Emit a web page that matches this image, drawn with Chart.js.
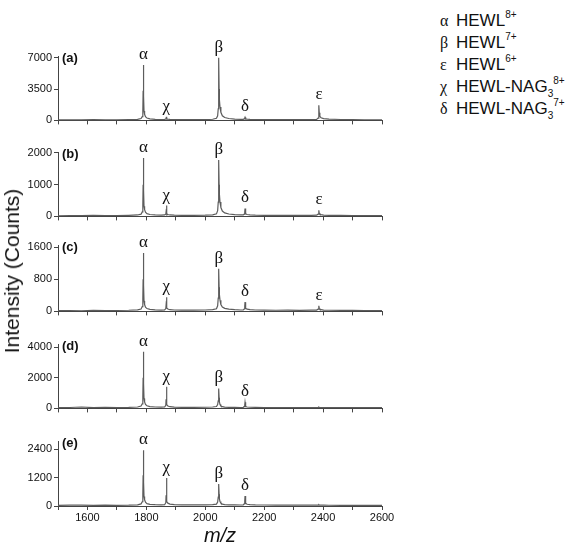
<!DOCTYPE html>
<html lang="en">
<head>
  <meta charset="UTF-8" />
  <title>HEWL spectra</title>
  <script src="https://cdn.jsdelivr.net/npm/chart.js"></script>
  <style>
    html, body { margin: 0; padding: 0; background: #fff; }
    body { width: 567px; height: 547px; overflow: hidden; position: relative; font-family: "Liberation Sans", Arial, sans-serif; }
    canvas.panel { position: absolute; left: 0; }
    #ytitle {
      position: absolute; left: 12px; top: 271px; font-size: 21px; color: #111;
      transform: translate(-50%, -50%) rotate(-90deg); white-space: nowrap;
    }
    .leg { position: absolute; left: 440px; font-size: 17px; color: #111; white-space: nowrap; line-height: 20px; }
    .leg .g { font-family: "Liberation Serif", "Times New Roman", serif; font-size: 16px; display: inline-block; width: 16px; }
    .leg sup { font-size: 10px; vertical-align: 8px; }
    .leg sub { font-size: 10px; vertical-align: -5px; }
  </style>
</head>
<body>
  <canvas class="panel" id="p0"></canvas>
  <canvas class="panel" id="p1"></canvas>
  <canvas class="panel" id="p2"></canvas>
  <canvas class="panel" id="p3"></canvas>
  <canvas class="panel" id="p4"></canvas>
  <div id="ytitle">Intensity (Counts)</div>

  <div class="leg" style="top:5px"><span class="g">α</span>HEWL<sup>8+</sup></div>
  <div class="leg" style="top:27px"><span class="g">β</span>HEWL<sup>7+</sup></div>
  <div class="leg" style="top:49px"><span class="g">ε</span>HEWL<sup>6+</sup></div>
  <div class="leg" style="top:71px"><span class="g">χ</span>HEWL-NAG<sub>3</sub><sup>8+</sup></div>
  <div class="leg" style="top:93px"><span class="g">δ</span>HEWL-NAG<sub>3</sub><sup>7+</sup></div>

  <script>
    // m/z sampling (shared by all five spectra)
    const mz = [
      1500, 1540, 1580, 1620, 1660, 1700, 1740, 1770, 1782, 1786, 1788, 1789, 1790, 1791, 1792, 1794, 1797, 1802, 1812, 1830, 1850,
      1862, 1866, 1867, 1868, 1869, 1870, 1873, 1880, 1895, 1920, 1960, 2000, 2025,
      2038, 2042, 2044, 2045, 2046, 2047, 2048, 2050, 2053, 2058, 2066, 2080, 2100, 2120,
      2129, 2132, 2134, 2135, 2136, 2138, 2142, 2152, 2170, 2200, 2240, 2280, 2320, 2360,
      2378, 2383, 2385, 2386, 2387, 2389, 2393, 2402, 2420, 2460, 2500, 2540, 2580, 2600
    ];

    const countsA = [
      60, 75, 55, 80, 65, 70, 90, 120, 210, 420, 1100, 3300, 6200, 2700, 1050, 680, 420, 260, 170, 120, 100,
      110, 160, 260, 400, 240, 170, 130, 105, 90, 80, 85, 95, 130,
      230, 520, 1300, 4100, 7000, 3500, 2300, 1500, 900, 520, 320, 210, 150, 120,
      120, 170, 260, 350, 240, 170, 140, 115, 100, 90, 80, 85, 80, 90,
      115, 260, 750, 1700, 850, 460, 300, 200, 140, 100, 85, 75, 70, 65
    ];
    const countsB = [
      20, 28, 22, 30, 25, 28, 35, 45, 70, 140, 380, 1000, 1840, 820, 320, 210, 130, 85, 60, 45, 40,
      45, 70, 150, 340, 140, 80, 60, 45, 38, 32, 35, 38, 50,
      80, 180, 450, 1100, 1780, 1000, 700, 450, 280, 170, 110, 75, 55, 45,
      45, 70, 140, 250, 130, 80, 60, 48, 40, 35, 32, 34, 30, 35,
      40, 70, 110, 190, 100, 70, 55, 42, 35, 30, 28, 26, 24, 22
    ];
    const countsC = [
      18, 22, 16, 24, 20, 22, 28, 38, 60, 120, 330, 800, 1450, 650, 260, 170, 105, 70, 50, 38, 32,
      38, 70, 160, 350, 150, 85, 60, 42, 35, 30, 32, 35, 45,
      65, 140, 330, 700, 1060, 600, 420, 280, 170, 110, 75, 55, 42, 35,
      38, 60, 130, 230, 120, 75, 55, 42, 35, 30, 28, 30, 26, 30,
      34, 55, 85, 140, 80, 55, 42, 34, 28, 25, 24, 22, 20, 18
    ];
    const countsD = [
      45, 60, 90, 55, 75, 55, 65, 90, 150, 300, 800, 2000, 3700, 1600, 650, 420, 260, 170, 120, 90, 80,
      90, 200, 600, 1420, 560, 250, 160, 110, 85, 70, 70, 75, 90,
      120, 250, 500, 900, 1300, 700, 420, 260, 160, 110, 85, 70, 65, 60,
      70, 110, 220, 400, 200, 120, 90, 75, 65, 60, 55, 58, 55, 55,
      55, 60, 70, 85, 65, 60, 58, 55, 52, 50, 48, 46, 45, 45
    ];
    const countsE = [
      28, 35, 40, 30, 38, 30, 35, 50, 90, 180, 500, 1300, 2350, 1000, 400, 260, 160, 100, 70, 55, 48,
      55, 140, 450, 1180, 430, 190, 120, 80, 60, 48, 45, 48, 60,
      80, 170, 380, 650, 930, 500, 300, 190, 120, 80, 60, 50, 45, 42,
      50, 90, 200, 420, 190, 110, 75, 58, 48, 42, 40, 40, 38, 36,
      36, 38, 45, 55, 42, 38, 35, 34, 32, 30, 30, 28, 28, 28
    ];

    const panelNames = ['(a)', '(b)', '(c)', '(d)', '(e)'];
    const yMax = [7200, 2030, 1650, 4200, 2740];
    const yTicks = [[0, 3500, 7000], [0, 1000, 2000], [0, 800, 1600], [0, 2000, 4000], [0, 1200, 2400]];
    const xTicks = [1600, 1800, 2000, 2200, 2400, 2600];

    const peakSym = ['α', 'χ', 'β', 'δ', 'ε'];
    const peakMz = [1790, 1868, 2046, 2135, 2386];
    const shownPeaks = [
      ['α', 'χ', 'β', 'δ', 'ε'],
      ['α', 'χ', 'β', 'δ', 'ε'],
      ['α', 'χ', 'β', 'δ', 'ε'],
      ['α', 'χ', 'β', 'δ'],
      ['α', 'χ', 'β', 'δ']
    ];

    const allCounts = [countsA, countsB, countsC, countsD, countsE];

    // plot area placement (top / bottom of each panel)
    const plotTop = [56, 152, 245, 344, 441];
    const plotBottom = [121, 217, 312, 409, 506];
    const PAD_TOP = 22;

    const peakLabels = {
      id: 'peakLabels',
      afterDatasetsDraw(chart, args, opts) {
        const { ctx, scales: { x, y }, chartArea } = chart;
        const data = chart.data.datasets[0].data;
        ctx.save();
        ctx.fillStyle = '#111';
        ctx.textAlign = 'center';
        ctx.textBaseline = 'alphabetic';
        ctx.font = '17px "Liberation Serif", "Times New Roman", serif';
        opts.peaks.forEach(sym => {
          const m = peakMz[peakSym.indexOf(sym)];
          let top = 0;
          data.forEach(p => { if (Math.abs(p.x - m) <= 3 && p.y > top) top = p.y; });
          ctx.fillText(sym, x.getPixelForValue(m), y.getPixelForValue(top) - 6);
        });
        ctx.font = 'bold 13px "Liberation Sans", Arial, sans-serif';
        ctx.textAlign = 'left';
        ctx.textBaseline = 'middle';
        ctx.fillText(opts.name, chartArea.left + 4, chartArea.top + 2);
        ctx.restore();
      }
    };

    allCounts.forEach((counts, i) => {
      const last = i === allCounts.length - 1;
      const xh = last ? 42 : 8;
      const canvas = document.getElementById('p' + i);
      const h = PAD_TOP + (plotBottom[i] - plotTop[i]) + xh;
      canvas.width = 400;
      canvas.height = h;
      canvas.style.width = '400px';
      canvas.style.height = h + 'px';
      canvas.style.top = (plotTop[i] - PAD_TOP) + 'px';

      new Chart(canvas.getContext('2d'), {
        type: 'line',
        data: {
          datasets: [{
            data: mz.map((m, k) => ({ x: m, y: counts[k] })),
            borderColor: '#5c5c5c',
            borderWidth: 1.2,
            pointRadius: 0,
            tension: 0,
            fill: false
          }]
        },
        options: {
          responsive: false,
          animation: false,
          layout: { padding: { top: PAD_TOP, right: 18, left: 0, bottom: 0 } },
          plugins: {
            legend: { display: false },
            tooltip: { enabled: false },
            peakLabels: { peaks: shownPeaks[i], name: panelNames[i] }
          },
          scales: {
            x: {
              type: 'linear',
              min: 1500,
              max: 2600,
              border: { color: '#444', width: 1 },
              grid: { drawOnChartArea: false, drawTicks: true, tickLength: 4, color: '#444' },
              ticks: {
                stepSize: 100,
                autoSkip: false,
                maxRotation: 0,
                padding: 1,
                color: '#111',
                font: { size: 11, family: '"Liberation Sans", Arial, sans-serif' },
                callback: v => (last && xTicks.includes(v)) ? String(v) : ''
              },
              title: {
                display: last,
                text: 'm/z',
                color: '#111',
                padding: { top: 0, bottom: 0 },
                font: { size: 20, style: 'italic', family: '"Liberation Sans", Arial, sans-serif' }
              },
              afterFit: s => { s.height = xh; }
            },
            y: {
              min: 0,
              max: yMax[i],
              border: { color: '#444', width: 1 },
              grid: { drawOnChartArea: false, drawTicks: true, tickLength: 4, color: '#444' },
              ticks: {
                padding: 2,
                color: '#111',
                font: { size: 11, family: '"Liberation Sans", Arial, sans-serif' },
                callback: v => String(v)
              },
              afterBuildTicks: s => { s.ticks = yTicks[i].map(v => ({ value: v })); },
              afterFit: s => { s.width = 58; }
            }
          }
        },
        plugins: [peakLabels]
      });
    });
  </script>
</body>
</html>
